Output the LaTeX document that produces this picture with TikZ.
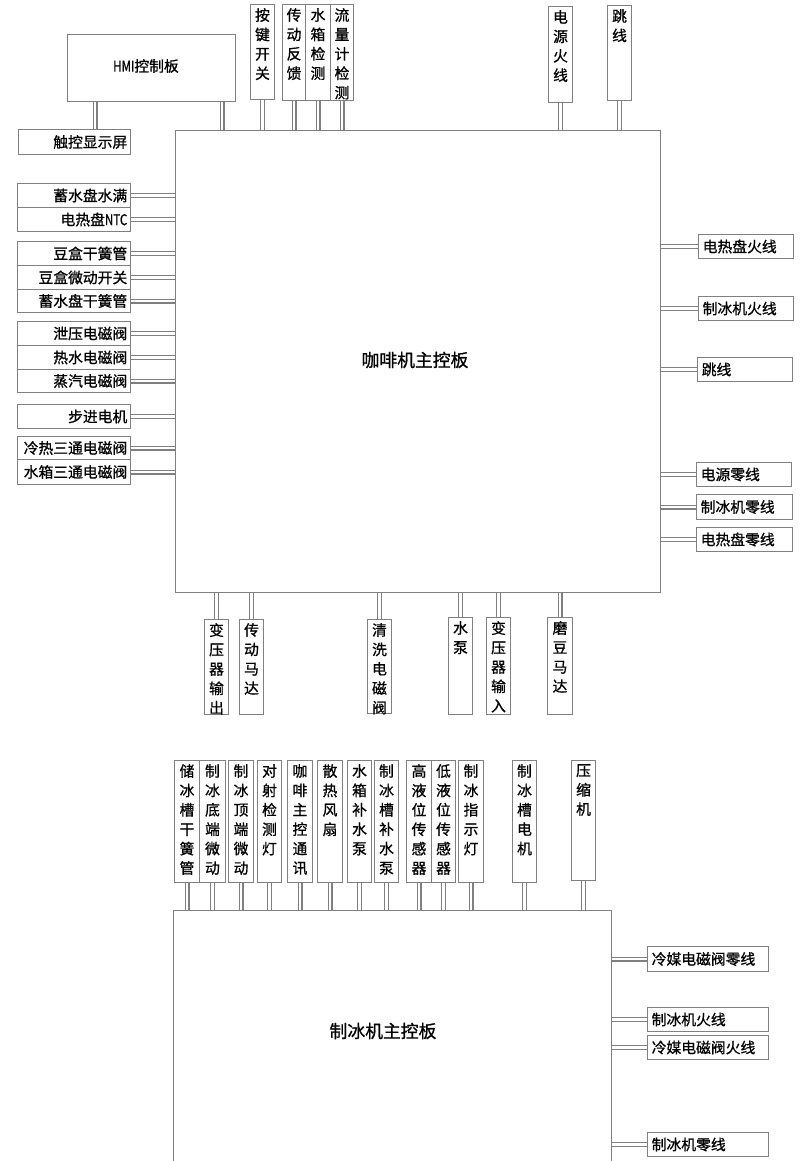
\documentclass[tikz,border=0pt]{standalone}
\usepackage{graphicx}
\usepackage{fontspec}
\setmainfont{Noto Sans CJK SC}[FakeBold=0.9]
\definecolor{lc}{RGB}{128,128,128}
\pgfdeclarelayer{background}
\pgfsetlayers{background,main}
\newcommand\mkv[6]{\node[bx,minimum width={#4-#2},minimum height={#5-#3}] (#1) at (#2,#3) {};\node[vt] (#1t) at ([yshift=-4pt]#1.north) {#6};}
\newcommand\mkl[6]{\node[bx,minimum width={#4-#2},minimum height={#5-#3}] (#1) at (#2,#3) {};\node[anchor=east,inner sep=0pt] (#1t) at ([xshift=-3.5pt]#1.east) {#6};}
\newcommand\mkr[6]{\node[bx,minimum width={#4-#2},minimum height={#5-#3}] (#1) at (#2,#3) {};\node[anchor=west,inner sep=0pt] (#1t) at ([xshift=4.5pt]#1.west) {#6};}
\newcommand\cond[1]{\scalebox{0.78}[1]{#1}}
\begin{document}
\begin{tikzpicture}[x=1pt,y=-1pt,
  every node/.style={font=\fontsize{14.8}{19.4}\selectfont},
  big/.style={font=\fontsize{17.8}{20}\selectfont},
  bx/.style={draw=lc, line width=1pt, inner sep=0pt, anchor=north west},
  vt/.style={anchor=north, inner sep=0pt, align=center},
  conn/.style={draw=lc, line width=1.1pt, double=white, double distance=2.8pt}]
\useasboundingbox (0,0) rectangle (801,1161);
% coffee main board
\node[bx, minimum width=485, minimum height=462] (cb) at (175,130) {};
\node[big] (cbt) at (415,360) {咖啡机主控板};
% HMI
\node[bx, minimum width=168, minimum height=67] (hmi) at (67,34) {};
\node (hmit) at (146,66) {\cond{HMI}控制板};
\mkl{ts}{18}{129}{130}{154}{触控显示屏}
\coordinate (h1) at (95,101);
\coordinate (h2) at (222,101);
% top
\mkv{k1}{250}{4}{274}{99}{按\\键\\开\\关}
\mkv{k2}{282}{4}{305}{100}{传\\动\\反\\馈}
\mkv{k3}{305}{4}{330}{100}{水\\箱\\检\\测}
\mkv{k4}{330}{4}{353}{100}{流\\量\\计\\检\\测}
\mkv{k5}{548}{6}{572}{102}{电\\源\\火\\线}
\mkv{k6}{607}{5}{631}{100}{跳\\线}
% left
\mkl{l1}{17}{183}{130}{207}{蓄水盘水满}
\mkl{l2}{17}{207}{130}{231}{电热盘\cond{NTC}}
\mkl{l3}{17}{241}{130}{265}{豆盒干簧管}
\mkl{l4}{17}{265}{130}{289}{豆盒微动开关}
\mkl{l5}{17}{289}{130}{312}{蓄水盘干簧管}
\mkl{l6}{17}{321}{130}{345}{泄压电磁阀}
\mkl{l7}{17}{345}{130}{369}{热水电磁阀}
\mkl{l8}{17}{369}{130}{392}{蒸汽电磁阀}
\mkl{l9}{17}{404}{130}{428}{步进电机}
\mkl{l10}{17}{436}{130}{459}{冷热三通电磁阀}
\mkl{l11}{17}{459}{130}{484}{水箱三通电磁阀}
% right
\mkr{r1}{698}{234}{793}{258}{电热盘火线}
\mkr{r2}{698}{296}{793}{320}{制冰机火线}
\mkr{r3}{697}{357}{792}{381}{跳线}
\mkr{r4}{696}{462}{791}{486}{电源零线}
\mkr{r5}{696}{494}{792}{519}{制冰机零线}
\mkr{r6}{696}{527}{792}{551}{电热盘零线}
% bottom
\mkv{b1}{204}{619}{228}{714}{变\\压\\器\\输\\出}
\mkv{b2}{239}{619}{263}{714}{传\\动\\马\\达}
\mkv{b3}{367}{619}{391}{713}{清\\洗\\电\\磁\\阀}
\mkv{b4}{448}{617}{472}{714}{水\\泵}
\mkv{b5}{486}{617}{510}{714}{变\\压\\器\\输\\入}
\mkv{b6}{547}{617}{572}{714}{磨\\豆\\马\\达}
% ice machine board
\node[bx, minimum width=438, minimum height=300] (ib) at (173,910) {};
\node[big] (ibt) at (383,1031) {制冰机主控板};
\mkv{i1}{174}{760}{199}{882}{储\\冰\\槽\\干\\簧\\管}
\mkv{i2}{199}{760}{225}{882}{制\\冰\\底\\端\\微\\动}
\mkv{i3}{228}{760}{253}{882}{制\\冰\\顶\\端\\微\\动}
\mkv{i4}{257}{760}{281}{882}{对\\射\\检\\测\\灯}
\mkv{i5}{287}{760}{312}{882}{咖\\啡\\主\\控\\通\\讯}
\mkv{i6}{317}{760}{342}{882}{散\\热\\风\\扇}
\mkv{i7}{347}{760}{371}{882}{水\\箱\\补\\水\\泵}
\mkv{i8}{374}{760}{398}{882}{制\\冰\\槽\\补\\水\\泵}
\mkv{i9}{406}{760}{431}{882}{高\\液\\位\\传\\感\\器}
\mkv{i10}{431}{760}{455}{882}{低\\液\\位\\传\\感\\器}
\mkv{i11}{458}{760}{483}{882}{制\\冰\\指\\示\\灯}
\mkv{i12}{512}{760}{536}{882}{制\\冰\\槽\\电\\机}
\mkv{i13}{571}{760}{595}{880}{压\\缩\\机}
\mkr{j1}{647}{946}{768}{971}{冷媒电磁阀零线}
\mkr{j2}{647}{1007}{768}{1031}{制冰机火线}
\mkr{j3}{647}{1035}{768}{1059}{冷媒电磁阀火线}
\mkr{j4}{647}{1132}{768}{1156}{制冰机零线}
% connectors
\begin{pgfonlayer}{background}
\draw[conn] (h1) -- (h1 |- ts.north);
\draw[conn] (h2) -- (h2 |- cb.north);
\foreach \n in {k1,k2,k3,k4,k5,k6} \draw[conn] (\n.south) -- (\n.south |- cb.north);
\foreach \n in {l1,l2,l3,l4,l5,l6,l7,l8,l9,l10,l11} \draw[conn] (\n.east) -- (\n.east -| cb.west);
\foreach \n in {r1,r2,r3,r4,r5,r6} \draw[conn] (\n.west) -- (\n.west -| cb.east);
\foreach \n in {b1,b2,b3,b4,b5,b6} \draw[conn] (\n.north) -- (\n.north |- cb.south);
\foreach \n in {i1,i2,i3,i4,i5,i6,i7,i8,i9,i10,i11,i12,i13} \draw[conn] (\n.south) -- (\n.south |- ib.north);
\foreach \n in {j1,j2,j3,j4} \draw[conn] (\n.west) -- (\n.west -| ib.east);
\end{pgfonlayer}
\end{tikzpicture}
\end{document}
